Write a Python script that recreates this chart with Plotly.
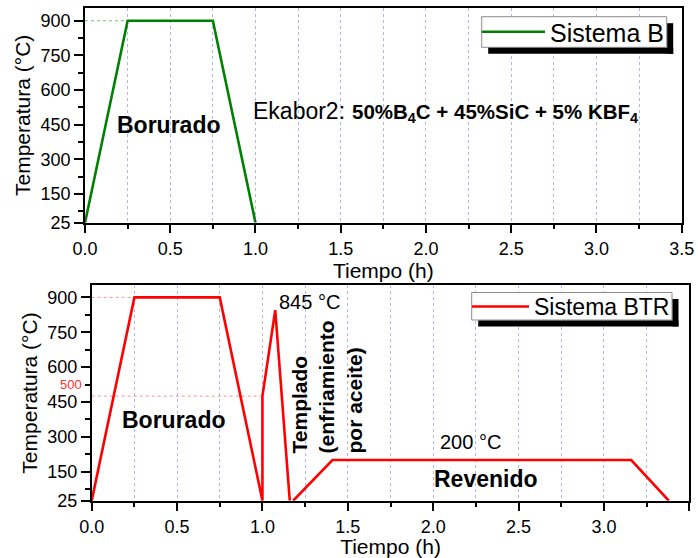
import plotly.graph_objects as go

# ---------------- data ----------------
top_x = [0.0, 0.25, 0.75, 1.0]
top_y = [25, 900, 900, 25]

btm_x = [0.0, 0.25, 0.75, 1.0, 1.0, 1.075, 1.16, None, 1.18, 1.41, 3.16, 3.38]
btm_y = [25, 900, 900, 25, 475, 845, 25, None, 25, 200, 200, 25]

# dotted reference (drop) lines
top_ref_x = [0.0, 0.25]
top_ref_y = [900, 900]
btm_ref1_x = [0.0, 0.25]
btm_ref1_y = [900, 900]
btm_ref2_x = [0.0, 1.0]
btm_ref2_y = [475, 475]

x_ticks = [0.0, 0.5, 1.0, 1.5, 2.0, 2.5, 3.0, 3.5]
x_ticktext = ["0.0", "0.5", "1.0", "1.5", "2.0", "2.5", "3.0", "3.5"]
y_ticks = [25, 150, 300, 450, 600, 750, 900]
y_minor = [75, 225, 375, 525, 675, 825]

W, H = 698, 558
FONT = "Arial, Liberation Sans, sans-serif"
GREEN = "#008000"
RED = "#ff0000"
GRID = "#b4b4ee"


def px(v):
    return v / W


def py(v):
    return 1 - v / H


fig = go.Figure()

fig.add_trace(go.Scatter(x=top_ref_x, y=top_ref_y, mode="lines",
                         line=dict(color="#80c080", width=1, dash="dot"),
                         showlegend=False, hoverinfo="skip", xaxis="x", yaxis="y"))
fig.add_trace(go.Scatter(x=top_x, y=top_y, mode="lines", name="Sistema B",
                         line=dict(color=GREEN, width=2.6),
                         xaxis="x", yaxis="y", legend="legend"))

fig.add_trace(go.Scatter(x=btm_ref1_x, y=btm_ref1_y, mode="lines",
                         line=dict(color="#ff9090", width=1, dash="dot"),
                         showlegend=False, hoverinfo="skip", xaxis="x2", yaxis="y2"))
fig.add_trace(go.Scatter(x=btm_ref2_x, y=btm_ref2_y, mode="lines",
                         line=dict(color="#ff9090", width=1, dash="dot"),
                         showlegend=False, hoverinfo="skip", xaxis="x2", yaxis="y2"))
fig.add_trace(go.Scatter(x=btm_x, y=btm_y, mode="lines", name="Sistema BTR",
                         line=dict(color=RED, width=2.6), connectgaps=False,
                         xaxis="x2", yaxis="y2", legend="legend2"))


def xaxis_cfg(domain, anchor, standoff):
    return dict(
        domain=domain, anchor=anchor, range=[0, 3.5], automargin=False,
        tickvals=x_ticks, ticktext=x_ticktext,
        ticks="outside", ticklen=9, tickwidth=1.5, tickcolor="black",
        showgrid=True, gridcolor=GRID, griddash="dot", gridwidth=1,
        minor=dict(dtick=0.25, tick0=0, ticks="outside", ticklen=5,
                   tickwidth=1.5, tickcolor="black",
                   showgrid=True, gridcolor=GRID, griddash="dot", gridwidth=1),
        showline=True, mirror=True, linecolor="black", linewidth=1.5,
        zeroline=False,
        tickfont=dict(family=FONT, size=18, color="black"),
        title=dict(text="Tiempo (h)", font=dict(family=FONT, size=21, color="black"),
                   standoff=standoff),
    )


def yaxis_cfg(domain, anchor, rng):
    return dict(
        domain=domain, anchor=anchor, range=rng, automargin=False,
        tickvals=y_ticks, ticks="outside", ticklen=9, tickwidth=1.5,
        tickcolor="black",
        minor=dict(tickvals=y_minor, ticks="outside", ticklen=5,
                   tickwidth=1.5, tickcolor="black", showgrid=False),
        showgrid=False, zeroline=False,
        showline=True, mirror=True, linecolor="black", linewidth=1.5,
        tickfont=dict(family=FONT, size=18, color="black"),
        title=dict(text="Temperatura (°C)",
                   font=dict(family=FONT, size=21, color="black"), standoff=4),
    )


fig.update_layout(
    template="none",
    width=W, height=H,
    margin=dict(l=0, r=0, t=0, b=0, autoexpand=False),
    paper_bgcolor="white", plot_bgcolor="white",
    font=dict(family=FONT, color="black"),
    xaxis=xaxis_cfg([px(85), px(681.7)], "y", 3),
    yaxis=yaxis_cfg([py(222.7), py(8)], "x", [25, 955]),
    xaxis2=xaxis_cfg([px(91.7), px(689.3)], "y2", 4),
    yaxis2=yaxis_cfg([py(500.7), py(285.3)], "x2", [25, 952]),
    legend=dict(x=px(477), y=py(32), xanchor="left", yanchor="middle",
                bgcolor="rgba(255,255,255,0)", bordercolor="rgba(255,255,255,0)",
                borderwidth=0,
                font=dict(family=FONT, size=25, color="black"),
                itemwidth=63, tracegroupgap=0),
    legend2=dict(x=px(467), y=py(306.5), xanchor="left", yanchor="middle",
                 bgcolor="rgba(255,255,255,0)", bordercolor="rgba(255,255,255,0)",
                 borderwidth=0,
                 font=dict(family=FONT, size=23, color="black"),
                 itemwidth=57, tracegroupgap=0),
    showlegend=True,
)

# legend frames with drop shadows (shadow drawn as two black strips)
SH = 6.5
for (bx0, by0, bx1, by1) in [(481.7, 16.7, 666.7, 47.3), (471.7, 292.5, 672, 320)]:
    fig.add_shape(type="rect", xref="paper", yref="paper",
                  x0=px(bx0), x1=px(bx1), y0=py(by1), y1=py(by0),
                  fillcolor="white", line=dict(color="#8c8c8c", width=1), layer="above")
    # right strip
    fig.add_shape(type="rect", xref="paper", yref="paper",
                  x0=px(bx1 + 0.5), x1=px(bx1 + SH), y0=py(by1 + SH), y1=py(by0 + SH),
                  fillcolor="black", line=dict(width=0), layer="above")
    # bottom strip
    fig.add_shape(type="rect", xref="paper", yref="paper",
                  x0=px(bx0 + SH), x1=px(bx1 + SH), y0=py(by1 + SH), y1=py(by1 + 0.5),
                  fillcolor="black", line=dict(width=0), layer="above")

ann = []
# top panel
ann.append(dict(x=0.493, y=448, xref="x", yref="y", text="<b>Borurado</b>",
                showarrow=False, font=dict(family=FONT, size=23, color="black")))
ann.append(dict(x=0.975, y=509, xref="x", yref="y", text="Ekabor2:",
                xanchor="left", showarrow=False,
                font=dict(family=FONT, size=23, color="black")))
ann.append(dict(x=1.552, y=500, xref="x", yref="y",
                text="<b>50%B<sub>4</sub>C + 45%SiC + 5% KBF<sub>4</sub></b>",
                xanchor="left", showarrow=False,
                font=dict(family=FONT, size=20.5, color="black")))
# bottom panel
ann.append(dict(x=1.087, y=881, xref="x2", yref="y2", text="845 °C",
                xanchor="left", showarrow=False,
                font=dict(family=FONT, size=20, color="black")))
ann.append(dict(x=0.482, y=373, xref="x2", yref="y2", text="<b>Borurado</b>",
                showarrow=False, font=dict(family=FONT, size=23, color="black")))
ann.append(dict(x=1.377, y=221, xref="x2", yref="y2",
                text="<b>Templado</b><br><b>(enfriamiento</b><br><b>por aceite)</b>",
                textangle=-90, xanchor="center", yanchor="bottom", align="left",
                showarrow=False, font=dict(family=FONT, size=21, color="black")))
ann.append(dict(x=2.216, y=277, xref="x2", yref="y2", text="200 °C",
                showarrow=False, font=dict(family=FONT, size=20, color="black")))
ann.append(dict(x=2.311, y=118, xref="x2", yref="y2", text="<b>Revenido</b>",
                showarrow=False, font=dict(family=FONT, size=23, color="black")))
ann.append(dict(x=px(83), y=523, xref="paper", yref="y2", text="500",
                xanchor="right", showarrow=False, borderpad=0,
                font=dict(family=FONT, size=13, color="#ff3030")))
fig.update_layout(annotations=ann)

fig.write_html("out.html")
